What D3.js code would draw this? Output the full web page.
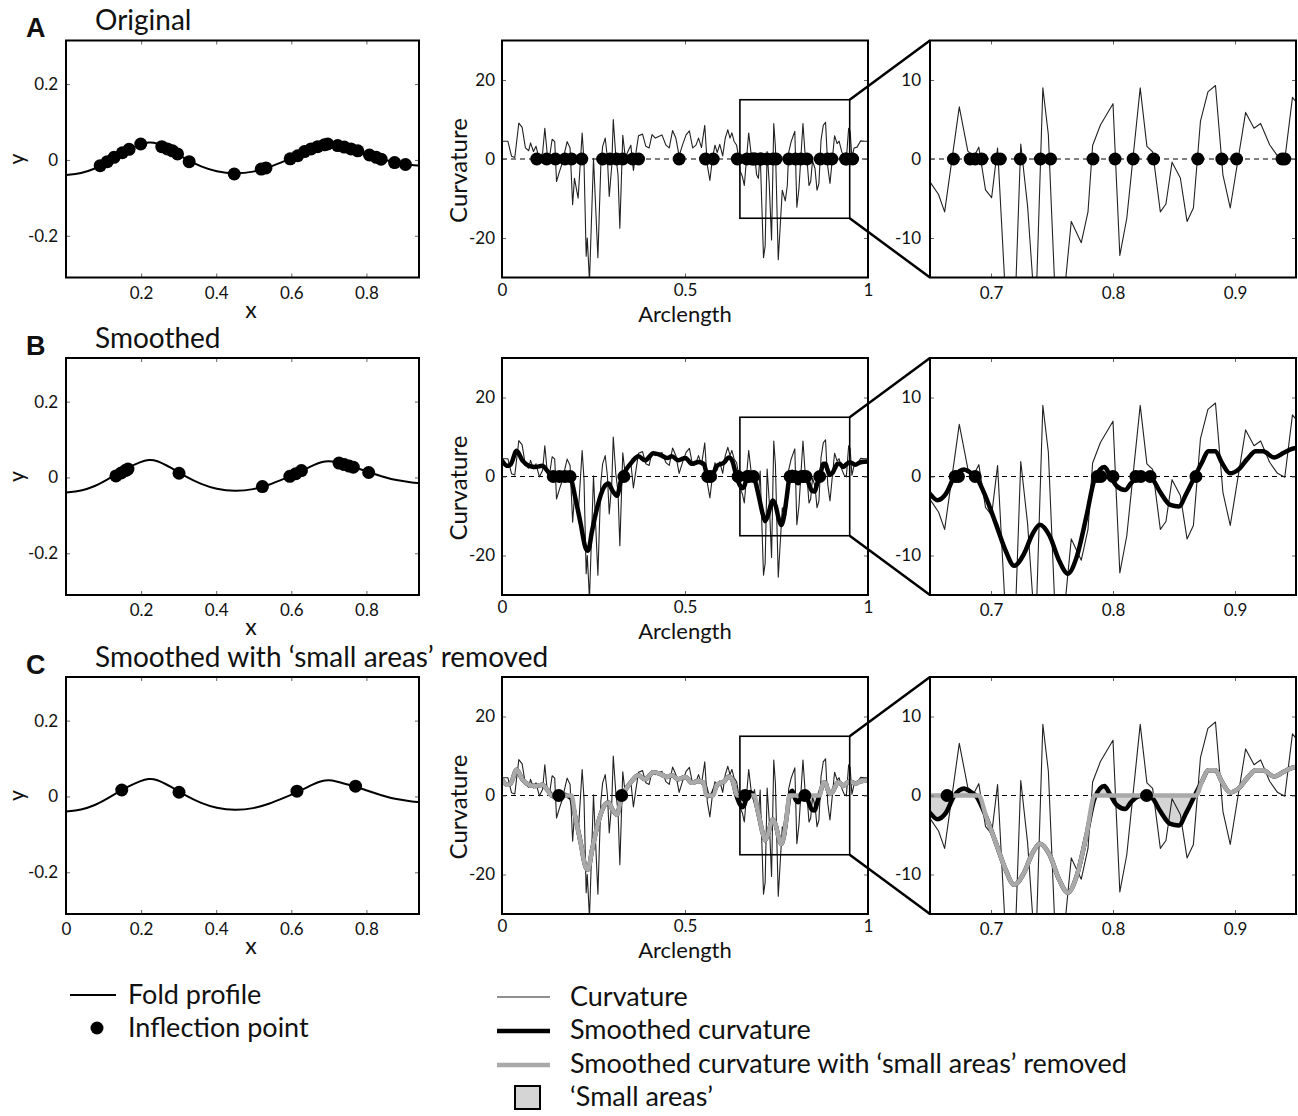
<!DOCTYPE html>
<html><head><meta charset="utf-8">
<script src="https://cdn.jsdelivr.net/npm/d3@7/dist/d3.min.js"></script>
<style>body{margin:0;background:#fff} text{font-family:Lato,"Open Sans",sans-serif;fill:#111}</style>
</head><body>
<script>
// ---------------- DATA ----------------
// Fold profile (x, y)
const profileX = [0,0.04,0.08,0.10,0.12,0.16,0.20,0.22,0.24,0.28,0.32,0.36,0.40,0.45,0.50,0.54,0.58,0.62,0.66,0.68,0.70,0.72,0.74,0.76,0.78,0.80,0.84,0.88,0.92,0.94];
const profileY = [-0.040,-0.036,-0.022,-0.011,0.000,0.024,0.042,0.047,0.046,0.026,0.001,-0.018,-0.031,-0.037,-0.032,-0.020,-0.004,0.013,0.033,0.041,0.044,0.040,0.034,0.029,0.023,0.016,0.003,-0.008,-0.013,-0.015];

// Inflection points on the fold profile
const inflAx = [0.091,0.110,0.128,0.150,0.168,0.199,0.255,0.270,0.2835,0.297,0.328,0.448,0.520,0.5325,0.597,0.617,0.635,0.6525,0.670,0.688,0.697,0.7235,0.741,0.759,0.777,0.808,0.826,0.839,0.875,0.904];
const inflAy = [-0.015,-0.0045,0.007,0.019,0.028,0.042,0.035,0.029,0.024,0.016,-0.0045,-0.037,-0.024,-0.021,0.003,0.011,0.022,0.029,0.035,0.040,0.042,0.038,0.034,0.029,0.024,0.013,0.007,0.002,-0.007,-0.012];
const inflBx = [0.133,0.147,0.158,0.165,0.301,0.523,0.596,0.612,0.627,0.727,0.741,0.754,0.765,0.806];
const inflBy = [0.004,0.012,0.018,0.022,0.011,-0.024,0.003,0.010,0.018,0.038,0.034,0.030,0.027,0.013];
const inflCx = [0.1485,0.301,0.615,0.771];
const inflCy = [0.017,0.011,0.014,0.027];

// Raw curvature vs arclength
const rawS = [0.002,0.016,0.026,0.035,0.046,0.055,0.064,0.073,0.078,0.086,
0.093,0.102,0.111,0.117,0.124,0.131,0.137,0.144,0.149,0.157,
0.164,0.171,0.178,0.186,0.193,0.198,0.208,0.219,0.224,0.230,
0.233,0.239,0.250,0.262,0.270,0.275,0.282,0.288,0.293,0.300,
0.304,0.311,0.317,0.322,0.330,0.337,0.344,0.352,0.359,0.366,
0.373,0.384,0.393,0.402,0.410,0.419,0.428,0.437,0.448,0.457,
0.466,0.475,0.484,0.493,0.503,0.512,0.521,0.530,0.537,0.545,
0.554,0.561,0.568,0.575,0.582,0.588,0.595,0.603,0.610,0.617,
0.623,0.628,0.634,0.641,0.646,
0.650,0.657,0.662,0.674,0.681,0.686,0.690,0.6955,0.7005,0.7054,
0.710,0.7145,0.719,0.7244,0.730,0.7365,0.7425,0.747,0.7548,0.7658,
0.774,0.7795,0.7833,0.7897,0.800,0.8056,0.8113,0.8223,0.8278,0.8325,
0.8388,0.8434,0.8484,0.8552,0.8607,0.8659,0.8717,0.8778,0.8840,0.8901,
0.8961,0.9087,0.9156,0.9210,0.9284,0.9348,0.9408,0.9471,0.9512,0.956,
0.962,0.970,0.980,0.990,1.0];
const rawK = [4.5,4.5,0.7,0.4,9.1,8.0,2.8,2.1,4.1,1.9,
3.2,-0.1,1.6,7.8,0.8,1.2,5.0,4.4,-5.7,-3.2,
-1.2,1.6,4.4,2.8,-11.6,-4.9,-9.9,6.6,-0.6,-24.6,
-20,-31,0.2,-25,-1.6,3.2,5.3,0.2,-9.5,-1.6,
10,0.7,-4,-17.5,6,0.3,1.9,3.5,-2.9,1.6,
5.9,6.3,3.2,2.8,6.2,5.3,5.7,6.1,3.5,2.8,
7.2,5.3,0.8,3.5,6.1,7.1,2.8,3.5,5.3,2.9,
8.5,-1.6,-5.4,0.2,3.5,1.6,3.7,0.8,5.3,7.4,
5.3,6.6,4.5,3.5,0.8,
-2.9,-4.5,-6.7,6.6,1.0,0.3,1.5,-3.9,-4.9,1.4,
-12,-25,-22,1.9,-6,-20.5,9.0,3.1,-25.5,-7.9,
-10.6,-6.7,1.7,4.3,7.0,-12.2,-7.5,9.0,1.6,0.9,
-6.7,-5.7,-0.4,-2.4,-7.9,-6.2,4.8,8.5,9.3,-2.0,
-6.2,5.9,3.9,4.5,1.8,0.4,-0.1,7.8,7.0,0.3,
2.8,3.0,4.6,4.5,4.5];

// Smoothed curvature
const smS = [0.000,0.015,0.024,0.040,0.056,0.074,0.092,0.110,0.124,0.138,
0.151,0.169,0.188,0.200,0.215,0.228,0.235,0.246,0.260,0.278,
0.291,0.302,0.314,0.326,0.337,0.355,0.373,0.391,0.414,0.432,
0.451,0.464,0.482,0.501,0.519,0.537,0.551,0.563,0.574,0.587,
0.606,0.620,0.629,0.640,0.650,0.656,0.663,0.670,0.678,0.683,
0.688,0.696,0.704,0.712,0.719,0.727,0.734,0.740,0.748,0.756,
0.763,0.770,0.778,0.785,0.793,0.797,0.803,0.810,0.815,0.821,
0.826,0.832,0.838,0.847,0.854,0.860,0.867,0.873,0.878,0.884,
0.889,0.896,0.903,0.910,0.917,0.923,0.932,0.940,0.950,0.965,
0.980,1.000];
const smK = [4.0,2.7,3.1,6.5,4.0,2.7,2.4,2.7,1.4,-0.1,
-0.4,0.2,-0.6,-5.3,-12.0,-18.0,-18.8,-13.8,-7.9,-2.8,
-1.8,-3.6,-4.9,-0.6,1.4,3.7,5.1,4.1,5.9,5.5,
4.7,5.1,4.1,4.7,3.2,3.7,3.2,-0.1,0.2,2.7,
3.5,4.8,4.0,0.2,-2.2,-3.0,-2.2,0.0,0.9,0.5,
-0.1,-2.7,-6.0,-9.4,-11.3,-9.8,-7.3,-6.1,-7.5,-10.7,
-12.3,-10.3,-5.2,-0.3,1.2,0.3,-1.2,-1.7,-0.8,-0.1,
0.0,-0.3,-1.8,-3.6,-3.8,-2.2,0.0,1.8,3.2,3.2,
1.8,0.4,0.9,2.2,3.2,3.2,2.4,3.0,3.6,3.0,
3.6,3.8];

// Smoothed curvature with 'small areas' removed
const grS = [0.000,0.015,0.024,0.040,0.056,0.074,0.092,0.110,0.124,0.135,
0.151,0.169,0.190,0.200,0.215,0.228,0.235,0.246,0.260,0.278,
0.291,0.302,0.314,0.326,0.337,0.355,0.373,0.391,0.414,0.432,
0.451,0.464,0.482,0.501,0.519,0.537,0.551,0.558,0.578,0.587,
0.606,0.620,0.629,0.643,0.650,0.670,0.690,0.696,0.704,0.712,
0.719,0.727,0.734,0.740,0.748,0.756,0.763,0.770,0.778,0.785,
0.826,0.868,0.873,0.878,0.884,0.889,0.896,0.903,0.910,0.917,
0.923,0.932,0.940,0.950,0.965,0.980,1.000];
const grK = [4.0,2.7,3.1,6.5,4.0,2.7,2.4,2.7,1.4,0,
0,0,0,-5.3,-12.0,-18.0,-18.8,-13.8,-7.9,-2.8,
-1.8,-3.6,-4.9,-0.6,1.4,3.7,5.1,4.1,5.9,5.5,
4.7,5.1,4.1,4.7,3.2,3.7,3.2,0,0,2.7,
3.5,4.8,4.0,0,0,0,0,-2.7,-6.0,-9.4,
-11.3,-9.8,-7.3,-6.1,-7.5,-10.7,-12.3,-10.3,-5.2,0,
0,0,1.8,3.2,3.2,1.8,0.4,0.9,2.2,3.2,
3.2,2.4,3.0,3.6,3.0,3.6,3.8];

// 'Small areas' intervals (arclength)
const smallStart = [0.135,0.558,0.643,0.785];
const smallEnd   = [0.190,0.578,0.690,0.868];

// Inflection points on curvature plots (arclength)
const inflAs = [0.095,0.122,0.146,0.172,0.19,0.218,0.275,0.295,0.313,0.33,0.357,0.373,0.484,0.556,0.577,0.643,0.6692,0.6829,0.687,0.6925,0.7049,0.7076,0.7241,0.7405,0.7488,0.7836,0.8017,0.8165,0.8333,0.8695,0.8892,0.9013,0.9386,0.9408,0.958];
const inflBs = [0.140,0.157,0.172,0.186,0.333,0.562,0.570,0.645,0.6706,0.6733,0.687,0.7872,0.790,0.800,0.8187,0.8228,0.8305,0.868];
const inflCs = [0.155,0.327,0.664,0.8275];

// Ticks / labels
const profXTicksAB = [0.2,0.4,0.6,0.8];
const profXTicksC = [0,0.2,0.4,0.6,0.8];
const profYTicks = [-0.2,0,0.2];
const curvXTicks = [0,0.5,1];
const curvYTicks = [-20,0,20];
const zoomXTicks = [0.7,0.8,0.9];
const zoomYTicks = [-10,0,10];
const rowLetters = ["A","B","C"];
const rowTitles = ["Original","Smoothed","Smoothed with \u2018small areas\u2019 removed"];
const legendLeft = ["Fold profile","Inflection point"];
const legendRight = ["Curvature","Smoothed curvature","Smoothed curvature with \u2018small areas\u2019 removed","\u2018Small areas\u2019"];

// ---------------- DRAW ----------------
const W=1298,H=1116;
const svg=d3.select('body').append('svg').attr('width',W).attr('height',H);
const rowTop=[40.5,358,677], PH=237;
const colL=[66,419], colM=[502,868], colR=[930,1296];
const GRAY='#a9a9a9', FILL='#d5d5d5';
const TICKFS=17;
let clipN=0;

function panel(cx,top,xd,yd){
  const x=d3.scaleLinear().domain(xd).range(cx);
  const y=d3.scaleLinear().domain(yd).range([top+PH,top]);
  const id='clip'+(clipN++);
  svg.append('clipPath').attr('id',id).append('rect').attr('x',cx[0]).attr('y',top).attr('width',cx[1]-cx[0]).attr('height',PH);
  const g=svg.append('g');
  const inner=g.append('g').attr('clip-path',`url(#${id})`);
  return {x,y,g,inner,x0:cx[0],x1:cx[1],top,bot:top+PH};
}
const fmt=d=>String(d);
function axes(p,xt,yt,xpad,ypad){
  const style=s=>{s.select('.domain').remove();s.selectAll('line').attr('stroke','#666');
    s.selectAll('text').style('font-family','Lato,sans-serif').attr('font-size',TICKFS).attr('fill','#222');};
  p.g.append('g').attr('transform',`translate(0,${p.bot})`)
    .call(d3.axisBottom(p.x).tickValues(xt).tickFormat(fmt).tickSizeInner(-4).tickSizeOuter(0).tickPadding(xpad)).call(style);
  p.g.append('g').attr('transform',`translate(0,${p.top})`)
    .call(d3.axisTop(p.x).tickValues(xt).tickFormat('').tickSizeInner(-4).tickSizeOuter(0)).call(style);
  p.g.append('g').attr('transform',`translate(${p.x0},0)`)
    .call(d3.axisLeft(p.y).tickValues(yt).tickFormat(fmt).tickSizeInner(-4).tickSizeOuter(0).tickPadding(ypad)).call(style);
  p.g.append('g').attr('transform',`translate(${p.x1},0)`)
    .call(d3.axisRight(p.y).tickValues(yt).tickFormat('').tickSizeInner(-4).tickSizeOuter(0)).call(style);
}
function frame(p){
  p.g.append('rect').attr('x',p.x0).attr('y',p.top).attr('width',p.x1-p.x0).attr('height',PH)
    .attr('fill','none').attr('stroke','#000').attr('stroke-width',2);
}
function pathLine(p,xs,ys,curve,stroke,w){
  const pts=xs.map((v,i)=>[v,ys[i]]);
  p.inner.append('path').datum(pts).attr('fill','none').attr('stroke',stroke).attr('stroke-width',w)
    .attr('stroke-linejoin','round').attr('stroke-linecap','round')
    .attr('d',d3.line().x(d=>p.x(d[0])).y(d=>p.y(d[1])).curve(curve));
}
function dots(p,xs,ys){
  p.inner.selectAll(null).data(xs.map((v,i)=>[v,ys[i]])).join('circle')
    .attr('cx',d=>p.x(d[0])).attr('cy',d=>p.y(d[1])).attr('r',6.5).attr('fill','#000');
}
function zeroLine(p){
  p.inner.append('line').attr('x1',p.x0).attr('x2',p.x1).attr('y1',p.y(0)).attr('y2',p.y(0))
    .attr('stroke','#000').attr('stroke-width',1).attr('stroke-dasharray','5,4');
}
function smallFill(p){
  smallStart.forEach((a,j)=>{
    const b=smallEnd[j];
    const pts=smS.map((v,i)=>[v,smK[i]]).filter(d=>d[0]>=a-0.004&&d[0]<=b+0.001);
    p.inner.append('path').datum(pts).attr('fill',FILL).attr('stroke','none')
      .attr('d',d3.area().x(d=>p.x(d[0])).y0(p.y(0)).y1(d=>p.y(d[1])).curve(d3.curveMonotoneX));
  });
}

const infl=[ [inflAx,inflAy], [inflBx,inflBy], [inflCx,inflCy] ];
const inflS=[inflAs,inflBs,inflCs];

for(let r=0;r<3;r++){
  const top=rowTop[r];
  // Left: fold profile
  const pl=panel(colL,top,[0,0.94],[-0.31,0.315]);
  pathLine(pl,profileX,profileY,d3.curveBasis,'#000',2);
  dots(pl,infl[r][0],infl[r][1]);
  axes(pl,r===2?profXTicksC:profXTicksAB,profYTicks,9,8);
  frame(pl);
  svg.append('text').attr('transform',`translate(24,${top+PH/2}) rotate(-90)`).attr('text-anchor','middle').attr('font-size',21).text('y');
  svg.append('text').attr('x',251).attr('y',pl.bot+40).attr('text-anchor','middle').attr('font-size',23).text('x');

  // Middle & right: curvature
  const pm=panel(colM,top,[0,1],[-30,30]);
  const pr=panel(colR,top,[0.65,0.95],[-15,15]);
  [pm,pr].forEach(p=>{
    if(r===2) smallFill(p);
    zeroLine(p);
    pathLine(p,rawS,rawK,d3.curveLinear,'#222',1.1);
    if(r>=1) pathLine(p,smS,smK,d3.curveMonotoneX,'#000',4.5);
    if(r===2) pathLine(p,grS,grK,d3.curveMonotoneX,GRAY,4.5);
    dots(p,inflS[r],inflS[r].map(()=>0));
  });
  axes(pm,curvXTicks,curvYTicks,6,7);
  axes(pr,zoomXTicks,zoomYTicks,9,9);
  frame(pm); frame(pr);
  // inset box and connectors
  pm.g.append('rect').attr('x',pm.x(0.65)).attr('y',pm.y(15)).attr('width',pm.x(0.95)-pm.x(0.65)).attr('height',pm.y(-15)-pm.y(15))
    .attr('fill','none').attr('stroke','#000').attr('stroke-width',1.6);
  svg.append('line').attr('x1',pm.x(0.95)).attr('y1',pm.y(15)).attr('x2',pr.x0).attr('y2',pr.top).attr('stroke','#000').attr('stroke-width',2.5);
  svg.append('line').attr('x1',pm.x(0.95)).attr('y1',pm.y(-15)).attr('x2',pr.x0).attr('y2',pr.bot).attr('stroke','#000').attr('stroke-width',2.5);
  svg.append('text').attr('transform',`translate(467,${top+130}) rotate(-90)`).attr('text-anchor','middle').attr('font-size',24).text('Curvature');
  svg.append('text').attr('x',685).attr('y',pm.bot+44).attr('text-anchor','middle').attr('font-size',22).text('Arclength');

  // letters & titles
  svg.append('text').attr('x',26).attr('y',top-3.5).attr('font-size',27).attr('font-weight','bold')
    .style('font-family','"Liberation Sans",Arial,sans-serif').text(rowLetters[r]);
  svg.append('text').attr('x',95).attr('y',top-10.5).attr('font-size',28).text(rowTitles[r]);
}

// Legends
const lg=svg.append('g');
lg.append('line').attr('x1',70).attr('x2',116).attr('y1',995).attr('y2',995).attr('stroke','#000').attr('stroke-width',2);
lg.append('circle').attr('cx',97).attr('cy',1028).attr('r',6.5).attr('fill','#000');
legendLeft.forEach((t,i)=>lg.append('text').attr('x',128).attr('y',1004+i*33).attr('font-size',27).text(t));
lg.append('line').attr('x1',497).attr('x2',550).attr('y1',997).attr('y2',997).attr('stroke','#222').attr('stroke-width',1.1);
lg.append('line').attr('x1',497).attr('x2',550).attr('y1',1031).attr('y2',1031).attr('stroke','#000').attr('stroke-width',4.5);
lg.append('line').attr('x1',497).attr('x2',550).attr('y1',1065).attr('y2',1065).attr('stroke',GRAY).attr('stroke-width',4.5);
lg.append('rect').attr('x',515).attr('y',1086).attr('width',25).attr('height',23).attr('fill',FILL).attr('stroke','#000').attr('stroke-width',2);
legendRight.forEach((t,i)=>lg.append('text').attr('x',570).attr('y',1006+i*33.4).attr('font-size',27).text(t));
</script>
</body></html>
